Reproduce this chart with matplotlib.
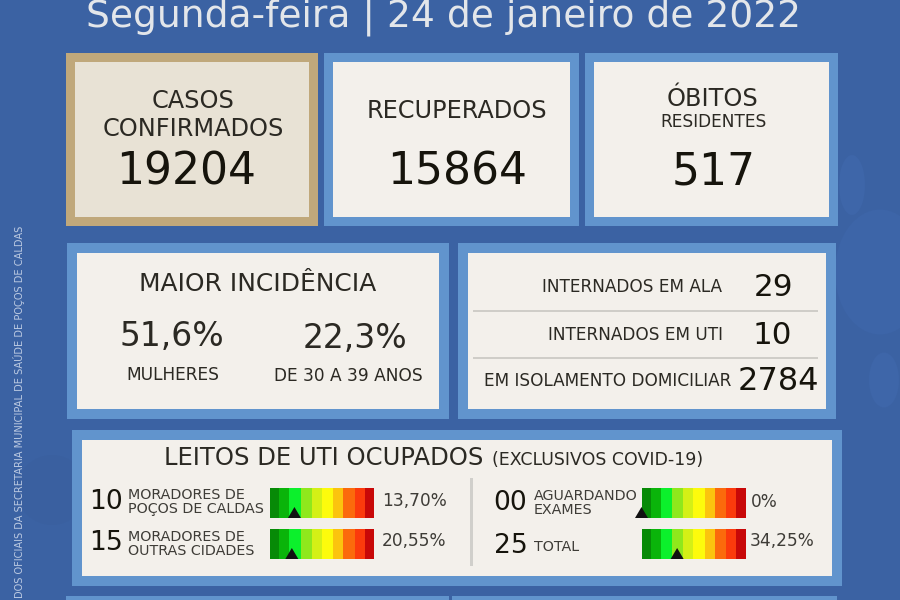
import matplotlib
matplotlib.use('Agg')
import matplotlib.pyplot as plt
from matplotlib.patches import Rectangle, Polygon, Ellipse

# values
top_values = ['19204', '15864', '517']
incidence_values = ['51,6%', '22,3%']
incidence_labels = ['MULHERES', 'DE 30 A 39 ANOS']
hospital_labels = ['INTERNADOS EM ALA', 'INTERNADOS EM UTI', 'EM ISOLAMENTO DOMICILIAR']
hospital_values = ['29', '10', '2784']
bed_counts = ['10', '15', '00', '25']
bed_labels = ['MORADORES DE\nPOÇOS DE CALDAS', 'MORADORES DE\nOUTRAS CIDADES', 'AGUARDANDO\nEXAMES', 'TOTAL']
bed_pct_text = ['13,70%', '20,55%', '0%', '34,25%']
# where the black arrow sits on the gauge, in percent of its width
bed_marks = [23.5, 21.0, 0.0, 34.25]
gauge_colors = ['#078a07', '#0ab40a', '#0cf02c', '#8fe81c', '#d4f016',
                '#fdfb0c', '#fbc40e', '#fb6a0c', '#fb3a0c', '#c80808']
gauge_edges = [0, 28, 58, 92, 125, 155, 190, 220, 254, 284, 312]

BG = '#3b62a3'
BLUE = '#6194cd'
CARD = '#f3f0eb'
INK = '#2b2923'
DARK = '#16140c'
GREY = '#3e3c37'

plt.rcParams['font.family'] = 'DejaVu Sans'
fig = plt.figure(figsize=(9, 6), dpi=100, facecolor=BG)
ax = fig.add_axes([0, 0, 1, 1])
ax.set_xlim(0, 900)
ax.set_ylim(600, 0)
ax.axis('off')


def box(x0, y0, x1, y1, color):
    ax.add_patch(Rectangle((x0, y0), x1 - x0, y1 - y0, fc=color, ec='none'))


def card(x0, y0, x1, y1, outer=BLUE, inner=CARD, b=9):
    box(x0, y0, x1, y1, outer)
    box(x0 + b, y0 + b, x1 - b, y1 - b, inner)


def label(x, y, s, px, color=INK, ha='center', **kw):
    ax.text(x, y, s, fontsize=px * 0.72, color=color, ha=ha, va='center', **kw)


def gauge(x0, y, pos, w=104, h=30):
    for i, c in enumerate(gauge_colors):
        a = x0 + w * gauge_edges[i] / gauge_edges[-1]
        b = x0 + w * gauge_edges[i + 1] / gauge_edges[-1]
        box(a, y, b + 0.3, y + h, c)
    mx = x0 + w * pos / 100
    ax.add_patch(Polygon([(mx - 6.5, y + 30), (mx + 6.5, y + 30), (mx, y + 19)], fc='#111111', ec='none'))


# faint virus shapes behind the cards
for cx, cy, w, h, c in [(880, 272, 90, 125, '#3d65a8'), (852, 185, 26, 60, '#3e66a9'),
                        (884, 380, 30, 55, '#3e66a9'), (52, 490, 70, 70, '#3a60a0')]:
    ax.add_patch(Ellipse((cx, cy), w, h, fc=c, ec='none'))

ax.text(444, 26, 'Segunda-feira | 24 de janeiro de 2022', fontsize=37.6 * 0.72, color='#e3e6ea',
        ha='center', va='baseline')

# top row
card(66, 53, 318, 226, outer='#c0a87b', inner='#e8e2d5')
card(324, 53, 579, 226)
card(585, 53, 838, 226)
label(193, 101, 'CASOS', 24)
label(193, 129, 'CONFIRMADOS', 24)
label(186, 172, top_values[0], 44, color=DARK)
label(457, 111, 'RECUPERADOS', 24)
label(457, 172, top_values[1], 44, color=DARK)
label(713, 99, 'ÓBITOS', 24)
label(714, 122, 'RESIDENTES', 17)
label(714, 172, top_values[2], 44, color=DARK)

# incidence
card(67, 243, 449, 419, b=10)
label(258, 284, 'MAIOR INCIDÊNCIA', 24.9)
label(172, 337, incidence_values[0], 33)
label(355, 338, incidence_values[1], 33)
label(173, 375, incidence_labels[0], 17)
label(348, 376, incidence_labels[1], 17)

# hospital
card(458, 243, 836, 419, b=10)
for yy in (311, 358):
    box(473, yy - 1.2, 818, yy + 1.2, '#cfcdc8')
hosp_y = [287, 335, 381]
hosp_right = [722, 723, 731]
num_x = [773, 772, 778.5]
num_px = [31, 31, 32]
for i in range(3):
    label(hosp_right[i], hosp_y[i], hospital_labels[i], 16.9, ha='right')
    label(num_x[i], hosp_y[i] + 1, hospital_values[i], num_px[i], color=DARK)

# beds
card(72, 430, 842, 586, b=10)
label(324, 458, 'LEITOS DE UTI OCUPADOS', 24.2)
label(598, 460, '(EXCLUSIVOS COVID-19)', 17.4)
box(470, 478, 473, 566, '#d0cfcb')
count_x = [105.5, 106.5, 510.5, 510.5]
count_y = [502, 543, 503, 546]
text_x = [128, 128, 534, 534]
text_y = [502, 544, 503, 547]
gauge_x = [270, 270, 641.5, 641.5]
gauge_y = [488, 529, 488, 529]
pct_x = [382, 382, 751, 750]
pct_y = [501, 541, 502, 541]
for i in range(4):
    label(count_x[i], count_y[i], bed_counts[i], 26.5, color=DARK)
    label(text_x[i], text_y[i], bed_labels[i], 14.3, ha='left', color=GREY, linespacing=1.0)
    gauge(gauge_x[i], gauge_y[i], bed_marks[i])
    label(pct_x[i], pct_y[i], bed_pct_text[i], 17, ha='left', color=GREY)

# bottom row, cut off by the image edge
box(66, 596, 449, 600, BLUE)
box(452, 596, 837, 600, BLUE)

ax.text(19.5, 226, 'DOS OFICIAIS DA SECRETARIA MUNICIPAL DE SAÚDE DE POÇOS DE CALDAS', rotation=90,
        fontsize=7.1, color='#bccae2', ha='center', va='top', family='Liberation Sans Narrow')

fig.savefig('out.png', dpi=100, facecolor=BG)
